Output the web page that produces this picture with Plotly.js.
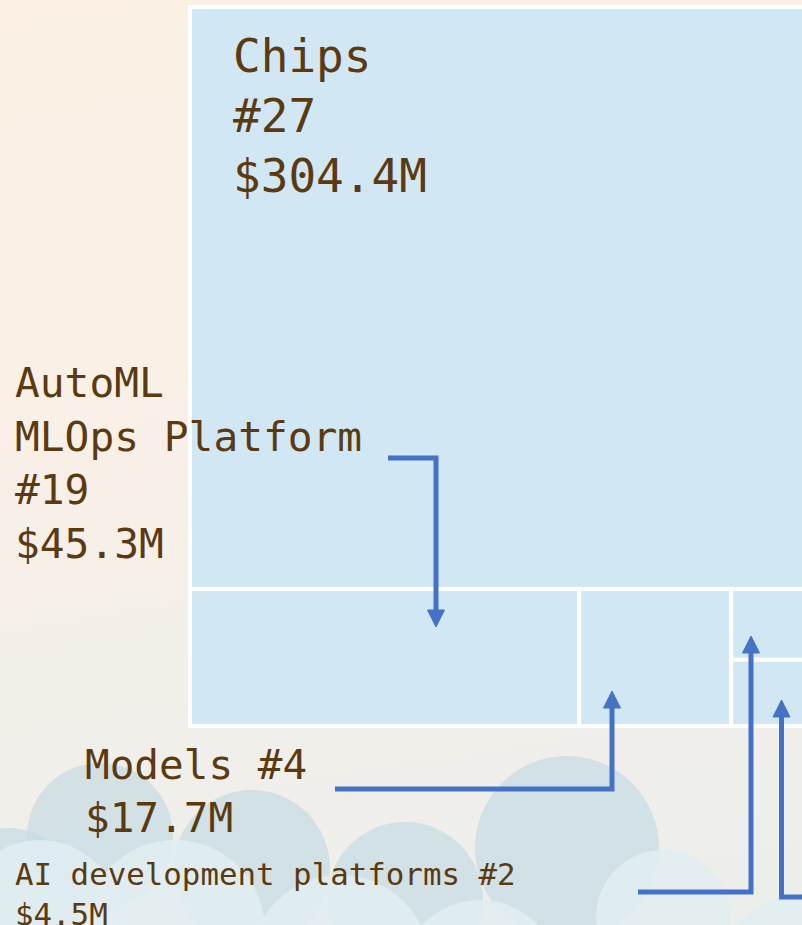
<!DOCTYPE html>
<html><head><meta charset="utf-8">
<script src="https://cdn.plot.ly/plotly-3.0.1.min.js"></script>
<style>
html,body{margin:0;padding:0;overflow:hidden;width:802px;height:925px;}
body{background:linear-gradient(170deg,#fcf0e4 0%,#f9f0e7 40%,#f1efea 72%,#eceeeb 100%);}
#chart{width:812px;height:925px;}
</style></head><body><div id="chart"></div>
<script>
// ---- data ----
const categories = ["Chips", "AutoML<br>MLOps Platform", "Models", "AI development platforms", "Other"];
const dealCounts = [27, 19, 4, 2, 1];
const fundingM = [304.4, 45.3, 17.7, 4.5, 4.2];
const showLabel = [true, true, true, true, false];
const countSep = ["<br>", "<br>", " ", " ", " "];

// ---- layout helpers (pixel -> paper) ----
const W = 812, H = 925;
const px = x => x / W;
const py = y => 1 - y / H;

const textColor = "#5b3a10";
const arrowColor = "#4472c4";
const fontFam = "DejaVu Sans Mono, monospace";

const labelText = categories.map((c, i) =>
  c + countSep[i] + "#" + dealCounts[i] + "<br>$" + fundingM[i].toFixed(1) + "M");

// label placement (pixels): left x, top y, font size
const labelPos = [
  [232, 28, 46],
  [14, 358, 41.2],
  [84, 740, 41],
  [14, 855, 30.8],
  null
];

const annotations = [];
labelText.forEach((t, i) => {
  if (!showLabel[i] || !labelPos[i]) return;
  const [x, y, s] = labelPos[i];
  annotations.push({
    xref: "paper", yref: "paper", x: px(x), y: py(y),
    xanchor: "left", yanchor: "top", align: "left", showarrow: false,
    borderpad: 0, text: t, font: {family: fontFam, size: s, color: textColor}
  });
});

// connector arrows (pixels)
const connectors = [
  {pts: [[388, 458], [436, 458], [436, 611]], tip: [436, 627]},
  {pts: [[335, 789], [612, 789], [612, 708]], tip: [612, 691]},
  {pts: [[638, 892], [751, 892], [751, 653]], tip: [751, 636]},
  {pts: [[830, 897], [781.5, 897], [781.5, 717]], tip: [781.5, 700]}
];

const shapes = [];
// decorative clouds
const backClouds = [[8, 900, 72], [100, 836, 73], [252, 868, 78], [405, 900, 78], [567, 848, 92]];
const frontClouds = [[40, 920, 80], [175, 930, 90], [340, 965, 90], [480, 980, 80], [663, 917, 67], [800, 975, 80]];
backClouds.forEach(([cx, cy, r]) => shapes.push({
  type: "circle", xref: "paper", yref: "paper", layer: "below",
  x0: px(cx - r), x1: px(cx + r), y0: py(cy + r), y1: py(cy - r),
  fillcolor: "rgba(198,219,226,0.7)", line: {width: 0}
}));
frontClouds.forEach(([cx, cy, r]) => shapes.push({
  type: "circle", xref: "paper", yref: "paper", layer: "below",
  x0: px(cx - r), x1: px(cx + r), y0: py(cy + r), y1: py(cy - r),
  fillcolor: "rgba(226,237,242,0.85)", line: {width: 0}
}));

connectors.forEach(c => {
  const d = c.pts.map((p, k) => (k ? "L" : "M") + px(p[0]) + "," + py(p[1])).join(" ");
  shapes.push({type: "path", xref: "paper", yref: "paper", path: d,
    line: {color: arrowColor, width: 5}, layer: "above"});
  const [tx, ty] = c.tip;
  const dir = c.pts[2][1] > c.pts[1][1] ? -1 : 1;
  const by = ty + (dir === 1 ? 17 : -17);
  const tri = "M" + px(tx) + "," + py(ty) + " L" + px(tx - 8.5) + "," + py(by) +
              " L" + px(tx + 8.5) + "," + py(by) + " Z";
  shapes.push({type: "path", xref: "paper", yref: "paper", path: tri,
    fillcolor: arrowColor, line: {color: arrowColor, width: 1}, layer: "above"});
});

const trace = {
  type: "treemap",
  labels: categories,
  parents: categories.map(() => ""),
  values: fundingM,
  textinfo: "none",
  hoverinfo: "skip",
  sort: true,
  marker: {
    colors: categories.map(() => "#d1e7f4"),
    line: {color: "#ffffff", width: 4},
    pad: {t: 0, l: 0, r: 0, b: 0}
  },
  tiling: {packing: "squarify", squarifyratio: 1, pad: 0},
  pathbar: {visible: false},
  domain: {x: [px(190), px(806)], y: [py(726), py(7)]}
};

Plotly.newPlot("chart", [trace], {
  width: W, height: H,
  margin: {l: 0, r: 0, t: 0, b: 0},
  paper_bgcolor: "rgba(0,0,0,0)",
  plot_bgcolor: "rgba(0,0,0,0)",
  showlegend: false,
  annotations: annotations,
  shapes: shapes
}, {displayModeBar: false, staticPlot: true});
</script></body></html>
